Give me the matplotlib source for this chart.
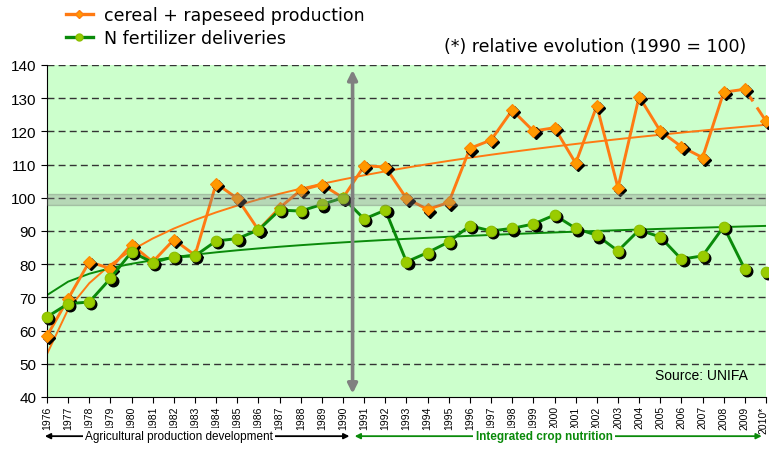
import numpy as np
import matplotlib.pyplot as plt
import matplotlib.transforms as mtransforms

# --- data (index, 1990 = 100) ---
years = ["1976", "1977", "1978", "1979", "1980", "1981", "1982", "1983", "1984",
         "1985", "1986", "1987", "1988", "1989", "1990", "1991", "1992", "1993",
         "1994", "1995", "1996", "1997", "1998", "1999", "2000", "2001", "2002",
         "2003", "2004", "2005", "2006", "2007", "2008", "2009", "2010*"]
cereal = [58.4, 69.6, 80.7, 78.7, 85.9, 80.7, 87.4, 82.7, 104.3, 99.8, 90.3, 97.0,
          102.3, 104.0, 100.0, 109.6, 109.3, 99.8, 96.5, 98.6, 114.9, 117.4, 126.4,
          120.1, 121.1, 110.4, 127.7, 103.0, 130.5, 120.1, 115.4, 112.1, 131.8, 132.7, 123.1]
nitrogen = [64.1, 68.1, 68.6, 75.7, 83.7, 80.5, 82.2, 82.5, 87.0, 87.7, 90.3, 96.3,
            96.0, 98.0, 100.0, 93.6, 96.3, 80.7, 83.5, 86.7, 91.6, 90.0, 90.8, 92.1,
            94.8, 90.8, 88.7, 84.0, 90.3, 88.2, 81.5, 82.5, 91.3, 78.5, 77.7]
y_ticks = [40, 50, 60, 70, 80, 90, 100, 110, 120, 130, 140]

ORANGE = "#FF7A12"
GREEN = "#0A8A0A"
LIME = "#99CC00"
BG = "#CCFFCC"

plt.rcParams['font.family'] = ['Liberation Sans Narrow', 'Liberation Sans', 'DejaVu Sans']

x = np.arange(len(years))

fig = plt.figure(figsize=(7.69, 4.52), dpi=100)
ax = fig.add_axes([0.0611, 0.1195, 0.935, 0.7345])
ax.set_facecolor(BG)


def log_trend(vals):
    # excel style logarithmic trendline fitted to the series
    t = x + 1
    b, a = np.polyfit(np.log(t), vals, 1)
    return a + b * np.log(t)


# grid
for v in y_ticks[1:]:
    ax.axhline(v, color="#333333", lw=1, ls=(0, (5, 3)), zorder=1)

# trend lines
ax.plot(x, log_trend(cereal), color=ORANGE, lw=1.4, zorder=2)
ax.plot(x, log_trend(nitrogen), color=GREEN, lw=1.4, zorder=2)

shadow = ax.transData + mtransforms.ScaledTranslation(2.2 / 100, -2.2 / 100, fig.dpi_scale_trans)

# cereal + rapeseed (last segment is an estimate, drawn broken)
ax.plot(x[:-1], cereal[:-1], color=ORANGE, lw=2.1, zorder=3)
ax.plot(x[-2:], cereal[-2:], color=ORANGE, lw=2.1, ls=(0, (5, 2.5)), zorder=3, clip_on=False)
ax.plot(x, cereal, ls="none", marker="D", ms=6.3, color="black", transform=shadow, zorder=3, clip_on=False)
ax.plot(x, cereal, ls="none", marker="D", ms=6.3, mfc="#FF9900", mec="#FF8800", mew=0.8,
        zorder=4, clip_on=False)

# N fertilizer deliveries
ax.plot(x[:-1], nitrogen[:-1], color=GREEN, lw=2.1, zorder=5)
ax.plot(x, nitrogen, ls="none", marker="o", ms=7.6, color="black", transform=shadow, zorder=5, clip_on=False)
ax.plot(x, nitrogen, ls="none", marker="o", ms=7.6, mfc=LIME, mec="#8CBF00", mew=0.8,
        zorder=6, clip_on=False)

# grey band around 100
ax.axhspan(97.9, 101.0, facecolor="#888888", edgecolor="#666666", alpha=0.32, lw=1, zorder=7)

# vertical separator 1990
ax.annotate("", xy=(14.45, 41), xytext=(14.45, 138.5),
            arrowprops=dict(arrowstyle="<|-|>", color="#808080", lw=2.6, mutation_scale=14,
                            shrinkA=0, shrinkB=0), zorder=8)

ax.set_xlim(0, 34)
ax.set_ylim(40, 140)
ax.set_yticks(y_ticks)
ax.set_xticks(x)
ax.set_xticklabels(years, rotation=90, fontsize=7.5)
ax.tick_params(axis="y", labelsize=11, length=4, direction="out")
ax.tick_params(axis="x", length=4, direction="out", pad=2)
ax.spines["top"].set_visible(False)
ax.spines["right"].set_visible(False)
# keep the last year label inside the picture
last = ax.get_xticklabels()[-1]
last.set_transform(last.get_transform() + mtransforms.ScaledTranslation(-3 / 100, 0, fig.dpi_scale_trans))

ax.text(0.975, 0.045, "Source: UNIFA", transform=ax.transAxes, ha="right", va="bottom",
        fontsize=10, family=["Liberation Sans", "DejaVu Sans"], zorder=9)

# bottom period arrows
xt = ax.get_xaxis_transform()
ya = -0.118
ax.annotate("", xy=(-0.1, ya), xytext=(14.3, ya), xycoords=xt, textcoords=xt,
            annotation_clip=False,
            arrowprops=dict(arrowstyle="<|-|>", color="black", lw=1.3, mutation_scale=8,
                            shrinkA=0, shrinkB=0))
ax.annotate("", xy=(14.55, ya), xytext=(33.8, ya), xycoords=xt, textcoords=xt,
            annotation_clip=False,
            arrowprops=dict(arrowstyle="<|-|>", color=GREEN, lw=1.3, mutation_scale=8,
                            shrinkA=0, shrinkB=0))
ax.text(6.25, ya, "Agricultural production development", transform=xt, ha="center", va="center",
        fontsize=8.5, bbox=dict(facecolor="white", edgecolor="none", pad=1.5))
ax.text(23.5, ya, "Integrated crop nutrition", transform=xt, ha="center", va="center",
        fontsize=8.5, color=GREEN, fontweight="bold", bbox=dict(facecolor="white", edgecolor="none", pad=1.5))

# legend and header note
h1, = ax.plot([], [], color=ORANGE, lw=2.4, marker="D", ms=4, mfc="#FF9900", mec=ORANGE)
h2, = ax.plot([], [], color=GREEN, lw=2.4, marker="o", ms=5, mfc=LIME, mec="#8CBF00")
fig.legend([h1, h2], ["cereal + rapeseed production", "N fertilizer deliveries"],
           loc="upper left", bbox_to_anchor=(0.065, 1.02), frameon=False,
           prop=dict(family=["DejaVu Sans"], size=12.5), handlelength=1.6,
           handletextpad=0.6, labelspacing=0.3)
fig.text(0.97, 0.897, "(*) relative evolution (1990 = 100)", ha="right", va="center",
         fontsize=12.5, family=["DejaVu Sans"])

fig.savefig("out.png", dpi=100)
